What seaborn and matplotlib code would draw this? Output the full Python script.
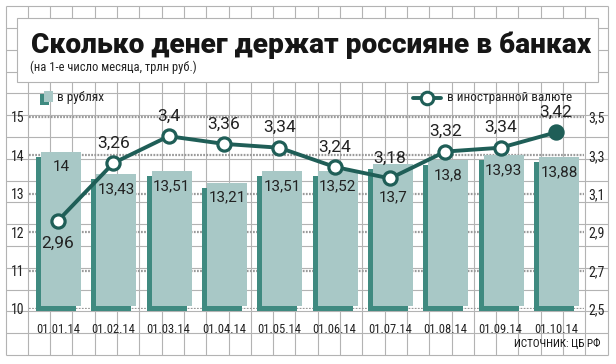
import numpy as np
import matplotlib
matplotlib.use("Agg")
import matplotlib.pyplot as plt
import matplotlib.transforms as mtransforms
from matplotlib.patches import Rectangle
from matplotlib.lines import Line2D
from matplotlib import font_manager as fm
import seaborn as sns

# ---------------- data ----------------
dates = ["01.01.14", "01.02.14", "01.03.14", "01.04.14", "01.05.14",
         "01.06.14", "01.07.14", "01.08.14", "01.09.14", "01.10.14"]
rub = [14, 13.43, 13.51, 13.21, 13.51, 13.52, 13.7, 13.8, 13.93, 13.88]
fx = [2.96, 3.26, 3.4, 3.36, 3.34, 3.24, 3.18, 3.32, 3.34, 3.42]
left_ticks = [10, 11, 12, 13, 14, 15]
right_ticks = [2.5, 2.7, 2.9, 3.1, 3.3, 3.5]
title = "Сколько денег держат россияне в банках"
subtitle = "(на 1-е число месяца, трлн руб.)"
legend_rub = "в рублях"
legend_fx = "в иностранной валюте"
source = "ИСТОЧНИК: ЦБ РФ"


def fmt(v):
    return f"{v:g}".replace(".", ",")


def pick(cands):
    for c in cands:
        try:
            fm.findfont(fm.FontProperties(family=c), fallback_to_default=False)
            return c
        except Exception:
            pass
    return "DejaVu Sans"


sns.set_style("white")
NARROW = pick(["Liberation Sans Narrow", "Roboto Condensed", "Roboto"])
NUMF = pick(["Roboto", "Open Sans", "DejaVu Sans"])
TITLEF = pick(["Roboto", "Inter", "DejaVu Sans"])
plt.rcParams["font.family"] = [NUMF, "DejaVu Sans"]

FACE = "#a8c8c6"
DARK = "#3f8a80"
LINE = "#1f5e57"
GRIDC = "#b3b3b3"
DOT = "#9a9a9a"
TXT = "#222222"

W, H = 616, 364
fig = plt.figure(figsize=(W / 100, H / 100), dpi=100)
fig.patch.set_facecolor("white")

# ---------------- background (graph paper) ----------------
bg = fig.add_axes([0, 0, 1, 1], zorder=0)
bg.set_xlim(0, W)
bg.set_ylim(H, 0)
bg.axis("off")
gx0, gx1, gy0, gy1 = 5.5, 607.6, 6.2, 355.0
for k in range(28):
    x = gx0 + k * (gx1 - gx0) / 27
    bg.plot([x, x], [gy0, gy1], color=GRIDC, lw=0.8, solid_capstyle="butt")
for k in range(17):
    y = gy1 - k * (gy1 - gy0) / 16
    bg.plot([gx0, gx1], [y, y], color=GRIDC, lw=0.8, solid_capstyle="butt")
bg.add_patch(Rectangle((17, 18), 581, 64, facecolor="white", edgecolor=GRIDC,
                       lw=0.8, zorder=3))

# title + subtitle
t = bg.text(31, 53, title, fontsize=22, fontweight="black", color="#161616",
            family=[TITLEF, "DejaVu Sans"], va="baseline", ha="left", zorder=4)
fig.canvas.draw()
wpx = t.get_window_extent().width
t.set_fontsize(22 * 558 / wpx)
bg.text(30, 67, subtitle, fontsize=9, color=TXT, family=[NARROW, "DejaVu Sans"],
        va="center", ha="left", zorder=4)

# legends
bg.add_patch(Rectangle((40, 94), 9, 11, facecolor=DARK, edgecolor="none", zorder=4))
bg.add_patch(Rectangle((43.5, 90.5), 9, 11, facecolor=FACE, edgecolor="none", zorder=5))
bg.text(57, 97, legend_rub, fontsize=9.5, color=TXT, family=[NARROW, "DejaVu Sans"],
        va="center", ha="left", zorder=5)
bg.add_line(Line2D([413, 441], [98, 98], color=LINE, lw=2.8, zorder=5))
bg.add_line(Line2D([427], [98], marker="o", markersize=9, markerfacecolor="white",
                   markeredgecolor=LINE, markeredgewidth=2.2, zorder=6))
bg.text(447, 97, legend_fx, fontsize=9.5, color=TXT, family=[NARROW, "DejaVu Sans"],
        va="center", ha="left", zorder=5)
bg.text(601, 343, source, fontsize=8, color="#111111", family=[NARROW, "DejaVu Sans"],
        va="center", ha="right", zorder=5)

# ---------------- main axes ----------------
L, R, B, T = 29, 584, 309, 90
ax = fig.add_axes([L / W, 1 - B / H, (R - L) / W, (B - T) / H], zorder=2)
ax.set_facecolor("none")

step = 55.3
bar_w = 40 / step
sns.barplot(x=dates, y=rub, ax=ax, color=FACE, saturation=1, width=bar_w,
            linewidth=0, zorder=3)

ylo = left_ticks[0]
yhi = left_ticks[-1] + (117 - T) / ((B - 117) / (left_ticks[-1] - left_ticks[0]))
ax.set_ylim(ylo, yhi)
ax.set_xlim(-(58 - L) / step, len(dates) - 1 + (R - 556) / step)

off_face = mtransforms.ScaledTranslation(3 / 100, 3 / 100, fig.dpi_scale_trans)
off_dark = mtransforms.ScaledTranslation(-2 / 100, -2 / 100, fig.dpi_scale_trans)
for p in list(ax.patches):
    top = p.get_y() + p.get_height()
    p.set_y(ylo)
    p.set_height(top - ylo)
    p.set_transform(ax.transData + off_face)
    p.set_clip_on(False)
    d = Rectangle((p.get_x(), ylo), p.get_width(), top - ylo, facecolor=DARK,
                  edgecolor="none", zorder=2, transform=ax.transData + off_dark,
                  clip_on=False)
    ax.add_patch(d)

for v in left_ticks:
    ax.axhline(v, color=DOT, lw=1.6, ls=(0, (0.8, 0.6)), zorder=1)

ax.set_yticks(left_ticks)
ax.set_yticklabels([str(v) for v in left_ticks], family=[NARROW, "DejaVu Sans"],
                   fontsize=10, color=TXT)
ax.tick_params(axis="y", length=0, pad=3)
ax.tick_params(axis="x", length=0, pad=10)
for lab in ax.get_xticklabels():
    lab.set_family([NARROW, "DejaVu Sans"])
    lab.set_fontsize(9)
    lab.set_color(TXT)
ax.set_xlabel("")
ax.set_ylabel("")
for s in ax.spines.values():
    s.set_visible(False)

# ---------------- line (foreign currency) ----------------
ax2 = ax.twinx()
ax2.set_zorder(3)
ax2.set_facecolor("none")
rlo = right_ticks[0]
rhi = rlo + (yhi - ylo) * (right_ticks[-1] - right_ticks[0]) / (left_ticks[-1] - left_ticks[0])
pos = np.arange(len(dates))
sns.lineplot(x=pos, y=fx, ax=ax2, color=LINE, lw=2.8, marker="o", markersize=9.5,
             markerfacecolor="white", markeredgecolor=LINE, markeredgewidth=2.3,
             zorder=5)
sns.scatterplot(x=pos[-1:], y=fx[-1:], ax=ax2, s=95, color=LINE, edgecolor=LINE,
                linewidth=0, zorder=6)
ax2.set_ylim(rlo, rhi)
ax2.set_xlim(ax.get_xlim())
ax2.set_yticks(right_ticks)
ax2.set_yticklabels([fmt(v) for v in right_ticks], family=[NARROW, "DejaVu Sans"],
                    fontsize=10, color=TXT)
ax2.tick_params(axis="y", length=0, pad=3)
ax2.set_ylabel("")
for s in ax2.spines.values():
    s.set_visible(False)

# ---------------- value labels ----------------
fig.canvas.draw()
to_pt = 72 / fig.dpi
for i, (rv, fv) in enumerate(zip(rub, fx)):
    _, bar_y = ax.transData.transform((i, rv))
    _, pt_y = ax2.transData.transform((i, fv))
    lab_y = bar_y - 12
    dy_bar = -12
    if abs(lab_y - pt_y) < 14:
        dy_bar = (pt_y - 19) - bar_y
    ax.annotate(fmt(rv), (i, rv), xytext=(3 * to_pt, dy_bar * to_pt),
                textcoords="offset points", ha="center", va="center",
                fontsize=11, color=TXT, zorder=7, annotation_clip=False)
    if pt_y < lab_y - 20:
        dy_pt = -23
    else:
        dy_pt = 20
    ax2.annotate(fmt(fv), (i, fv), xytext=(0, dy_pt * to_pt),
                 textcoords="offset points", ha="center", va="center",
                 fontsize=12.5, color=TXT, zorder=7, annotation_clip=False)

fig.savefig("out.png", dpi=100, facecolor="white")
